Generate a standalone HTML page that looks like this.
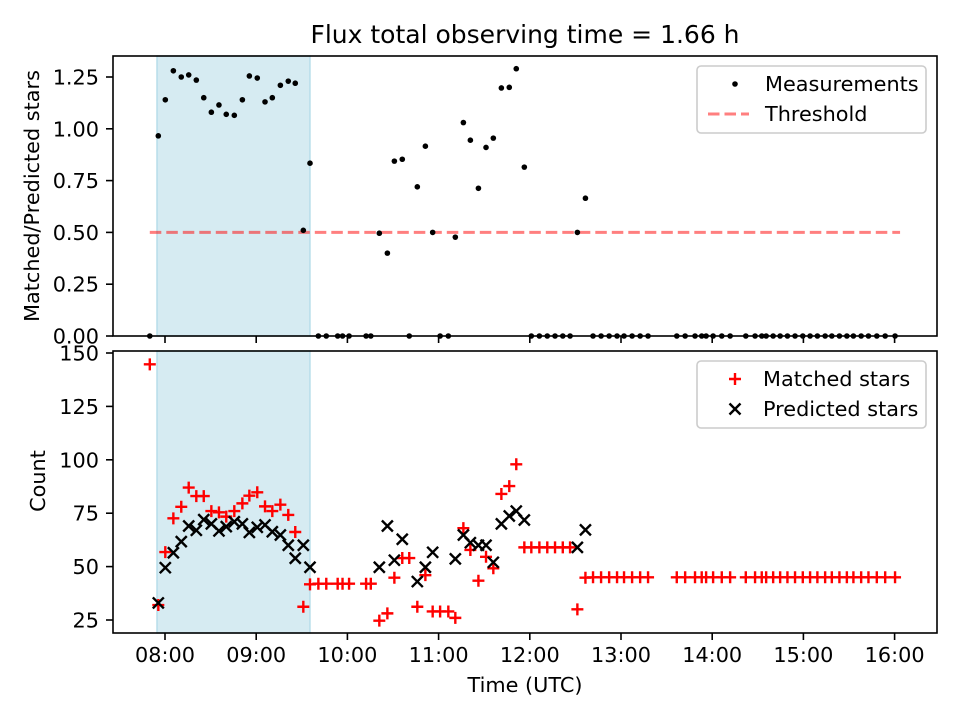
<!DOCTYPE html>
<html><head><meta charset="utf-8"><style>
html,body{margin:0;padding:0;background:#fff;}
svg{display:block;font-family:"DejaVu Sans","Liberation Sans",sans-serif;}
</style></head><body>
<svg id="fig" width="960" height="720" viewBox="0 0 960 720"></svg>
<script>
// minutes after 08:00 UTC
const times = [-10,-4.4,0.2,5.5,10.7,15.6,20.6,25.5,30.5,35.5,40.3,45.6,50.9,55.5,60.7,65.8,70.6,75.9,81.1,85.7,91.0,95.4,
100.9,106.1,113.6,116.8,121.1,132.3,135.4,141.0,146.3,150.9,156.1,160.7,166.0,171.3,176.1,181.0,186.4,191.0,196.3,200.9,206.2,211.2,216.0,221.3,226.5,231.1,236.4,
241.0,246.3,251.5,256.6,261.7,266.5,271.3,276.6,
281.6,286.9,292.2,297.4,302.0,307.3,312.6,317.8,336.7,342.2,348.7,353.1,356.0,360.6,366.3,371.8,
382.1,388.2,392.6,395.5,400.1,404.7,409.5,414.5,419.6,424.4,429.2,434.3,438.7,443.7,448.6,452.9,458.0,462.8,468.3,473.8,480.3,483.6];
const ratio = [0,0.966,1.14,1.28,1.25,1.26,1.235,1.15,1.08,1.115,1.07,1.065,1.14,1.255,1.245,1.13,1.15,1.21,1.23,1.22,0.51,0.834,
0,0,0,0,0,0,0,0.496,0.40,0.844,0.853,0,0.72,0.916,0.50,0,0,0.477,1.03,0.945,0.713,0.91,0.955,1.197,1.2,1.29,0.815,
0,0,0,0,0,0,0.50,0.665,
0,0,0,0, 0,0,0,0, 0,0,0,0, 0,0,0,0,
0,0,0,0,0, 0,0,0,0,0, 0,0,0,0,0, 0,0,0,0,0, 0];
const matched = [144.7,32,56.8,72.6,78,87,83,83,76,75.4,73.4,76,79.6,83.2,84.8,78.2,76,79,74.2,66.2,31.2,41.7,
42,42,42,42,42,42,42,24.7,28.1,44.8,54,54,31.2,46,29,29,29,26,68,57.8,43.4,54.6,49.2,84,87.7,97.9,59,
59,59,59,59,59,59,30,44.8,
45,45,45,45, 45,45,45,45, 45,45,45,45, 45,45,45,45,
45,45,45,45,45, 45,45,45,45,45, 45,45,45,45,45, 45,45,45,45,45, 45];
const predicted = [null,33,49.5,56.5,61.7,69,67,72,70,66.7,68.7,71,70,66,68.4,69.5,66.3,64.8,60,53.9,60,49.7,
null,null,null,null,null,null,null,49.7,69,53,62.8,null,43,49.7,56.7,null,null,53.6,64.8,61.2,60,60,52,70,73.7,76,71.8,
null,null,null,null,null,null,59,67.2];
const threshold = [0.5];
const shadeRange = [-5.3, 95.4];
const xTickLabels = ["08:00","09:00","10:00","11:00","12:00","13:00","14:00","15:00","16:00"];
const topTicks = [0,0.25,0.5,0.75,1.0,1.25];
const botTicks = [25,50,75,100,125,150];

const NS="http://www.w3.org/2000/svg";
const svg=document.getElementById('fig');
function el(tag,attrs,parent){const e=document.createElementNS(NS,tag);for(const k in attrs)e.setAttribute(k,attrs[k]);(parent||svg).appendChild(e);return e;}
const X0=113,X1=937;
const xs=t=>165+t*1.52;
const T0=56,T1=336, B0=351,B1=633;
const yt=r=>336-r*207.2;
const yb=c=>620-(c-25)*2.136;

let t=el('text',{x:525,y:43,'text-anchor':'middle','font-size':25,fill:'#000'});
t.textContent='Flux total observing time = 1.66 h';



function panel(name,y0,y1){
  const g=el('g',{});
  
  
  const s=el('rect',{x:xs(shadeRange[0]),y:y0,width:xs(shadeRange[1])-xs(shadeRange[0]),height:y1-y0,fill:'#add8e6','fill-opacity':0.5,stroke:'#add8e6','stroke-opacity':0.8,'stroke-width':1.5},g);
  
  
  return g;
}
function frame(g,y0,y1,name){
  const f=el('rect',{x:X0,y:y0,width:X1-X0,height:y1-y0,fill:'none',stroke:'#000','stroke-width':1.6},g);
  
  
  xTickLabels.forEach((lab,i)=>{
    const x=xs(i*60);
    const tk=el('line',{x1:x,x2:x,y1:y1,y2:y1+7,stroke:'#000','stroke-width':1.6},g);
    
    
  });
}

// TOP
const gt=panel('ratio-panel',T0,T1);
const thr=el('line',{x1:xs(Math.min(...times)),x2:xs(Math.max(...times)),y1:yt(threshold[0]),y2:yt(threshold[0]),stroke:'#ff0000','stroke-opacity':0.5,'stroke-width':3,'stroke-dasharray':'11.5 5'},gt);


times.forEach((tm,i)=>{
  if(ratio[i]==null)return;
  const c=el('circle',{cx:xs(tm),cy:yt(ratio[i]),r:2.8,fill:'#000'},gt);
  
  
});
frame(gt,T0,T1,'ratio-axes-frame');
topTicks.forEach(v=>{
  const y=yt(v);
  el('line',{x1:X0-7,x2:X0,y1:y,y2:y,stroke:'#000','stroke-width':1.6},gt);
  const tx=el('text',{x:99,y:y+7.5,'text-anchor':'end','font-size':20.8},gt);
  tx.textContent=v.toFixed(2);
  
  
});
let yl=el('text',{x:0,y:0,'text-anchor':'middle','font-size':20.8,transform:'translate(39,196) rotate(-90)'});
yl.textContent='Matched/Predicted stars';



// BOTTOM
const gb=panel('count-panel',B0,B1);
times.forEach((tm,i)=>{
  if(matched[i]==null)return;
  const x=xs(tm),y=yb(matched[i]);
  const p=el('path',{d:`M${x-6} ${y}H${x+6}M${x} ${y-6}V${y+6}`,stroke:'#ff0000','stroke-width':2.4,fill:'none'},gb);
  
  
});
times.forEach((tm,i)=>{
  if(predicted[i]==null)return;
  const x=xs(tm),y=yb(predicted[i]);
  const p=el('path',{d:`M${x-5.5} ${y-5.5}L${x+5.5} ${y+5.5}M${x-5.5} ${y+5.5}L${x+5.5} ${y-5.5}`,stroke:'#000','stroke-width':2.4,fill:'none'},gb);
  
  
});
frame(gb,B0,B1,'count-axes-frame');
botTicks.forEach(v=>{
  const y=yb(v);
  el('line',{x1:X0-7,x2:X0,y1:y,y2:y,stroke:'#000','stroke-width':1.6},gb);
  const tx=el('text',{x:99,y:y+7.5,'text-anchor':'end','font-size':20.8},gb);
  tx.textContent=v;
  
  
});
xTickLabels.forEach((lab,i)=>{
  const tx=el('text',{x:xs(i*60),y:B1+29,'text-anchor':'middle','font-size':20.8},gb);
  tx.textContent=lab;
  
  
});
let xl=el('text',{x:525,y:692,'text-anchor':'middle','font-size':20.8});
xl.textContent='Time (UTC)';


let yl2=el('text',{x:0,y:0,'text-anchor':'middle','font-size':20.8,transform:'translate(45,481) rotate(-90)'});
yl2.textContent='Count';



// Legends
function legend(name,y0){
  const g=el('g',{});
  
  
  el('rect',{x:697,y:y0,width:229,height:67,rx:4,fill:'#fff','fill-opacity':0.8,stroke:'#ccc','stroke-width':1.6},g);
  return g;
}
const lg1=legend('ratio-legend',66);
el('circle',{cx:735,cy:84,r:2.8,fill:'#000'},lg1);
let lt=el('text',{x:765,y:91,'font-size':20.8},lg1);lt.textContent='Measurements';


el('line',{x1:708,x2:749,y1:114,y2:114,stroke:'#ff0000','stroke-opacity':0.5,'stroke-width':3,'stroke-dasharray':'11.5 5'},lg1);
lt=el('text',{x:765,y:121,'font-size':20.8},lg1);lt.textContent='Threshold';



const lg2=legend('count-legend',361);
el('path',{d:'M729 379H741M735 373V385',stroke:'#ff0000','stroke-width':2.4},lg2);
lt=el('text',{x:763,y:386,'font-size':20.8},lg2);lt.textContent='Matched stars';


el('path',{d:'M729.5 403.5L740.5 414.5M729.5 414.5L740.5 403.5',stroke:'#000','stroke-width':2.4},lg2);
lt=el('text',{x:763,y:416,'font-size':20.8},lg2);lt.textContent='Predicted stars';


</script>
</body></html>
